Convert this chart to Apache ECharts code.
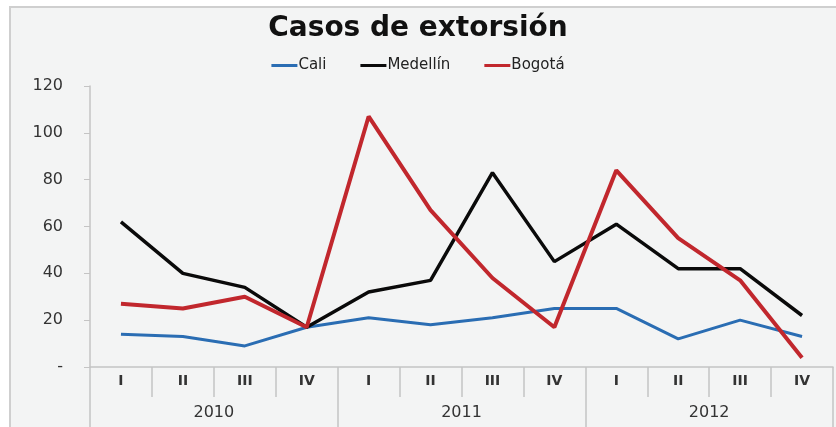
<!DOCTYPE html>
<html>
<head>
<meta charset="utf-8">
<script src="https://cdn.jsdelivr.net/npm/echarts@6/dist/echarts.min.js"></script>
<style>
  html, body { margin: 0; padding: 0; background: #fff; }
  #chart { width: 836px; height: 427px; }
</style>
</head>
<body>
<div id="chart"></div>
<script>
const quarters = ["I", "II", "III", "IV", "I", "II", "III", "IV", "I", "II", "III", "IV"];
const years = ["2010", "2011", "2012"];
const cali = [14, 13, 9, 17, 21, 18, 21, 25, 25, 12, 20, 13];
const medellin = [62, 40, 34, 17, 32, 37, 83, 45, 61, 42, 42, 22];
const bogota = [27, 25, 30, 17, 107, 67, 38, 17, 84, 55, 37, 4];

const font = "'DejaVu Sans', sans-serif";
const gridColor = "#c4c4c4";

let chart = echarts.init(document.getElementById("chart"));
let option = {
  backgroundColor: "#fff",
  animation: false,
  graphic: [
    // panel background, frame only on top and left like the source
    {
      type: "rect",
      shape: { x: 10, y: 7, width: 900, height: 500 },
      style: { fill: "#f3f4f4" },
      z: -10
    },
    {
      type: "polyline",
      shape: { points: [[10, 440], [10, 7], [840, 7]] },
      style: { stroke: "#cfcfcf", lineWidth: 2, fill: null },
      z: -9
    }
  ],
  title: {
    text: "Casos de extorsión",
    left: "center",
    top: 10,
    textStyle: { fontFamily: font, fontSize: 28, fontWeight: "bold", color: "#111" }
  },
  legend: {
    top: 53,
    left: "center",
    itemWidth: 26,
    itemHeight: 3,
    itemGap: 34,
    icon: "rect",
    textStyle: { fontFamily: font, fontSize: 15, color: "#222", padding: [0, 0, 0, -4] },
    data: ["Cali", "Medellín", "Bogotá"]
  },
  grid: { left: 90, right: 3, top: 86, bottom: 60 },
  xAxis: [
    {
      type: "category",
      data: quarters,
      boundaryGap: true,
      axisLine: { show: true, lineStyle: { color: gridColor, width: 1.5 } },
      axisTick: { show: true, interval: 0, length: 30, lineStyle: { color: gridColor, width: 1.5 } },
      axisLabel: { interval: 0, margin: 7, fontFamily: font, fontSize: 14, fontWeight: "bold", color: "#333" }
    },
    {
      type: "category",
      data: years,
      position: "bottom",
      boundaryGap: true,
      axisLine: { show: false },
      axisTick: { show: true, interval: 0, length: 62, lineStyle: { color: gridColor, width: 1.5 } },
      axisLabel: { interval: 0, margin: 38, fontFamily: font, fontSize: 16, color: "#333" }
    }
  ],
  yAxis: {
    type: "value",
    min: 0,
    max: 120,
    interval: 20,
    axisLine: { show: true, lineStyle: { color: gridColor, width: 1.5 } },
    axisTick: { show: true, length: 6, lineStyle: { color: gridColor } },
    splitLine: { show: false },
    axisLabel: {
      margin: 27,
      fontFamily: font,
      fontSize: 16,
      color: "#333",
      formatter: v => (v === 0 ? "-" : String(v))
    }
  },
  series: [
    {
      name: "Cali",
      type: "line",
      data: cali,
      symbol: "none",
      lineStyle: { color: "#2a6db3", width: 3 },
      itemStyle: { color: "#2a6db3" }
    },
    {
      name: "Medellín",
      type: "line",
      data: medellin,
      symbol: "none",
      lineStyle: { color: "#0a0a0a", width: 3.5 },
      itemStyle: { color: "#0a0a0a" }
    },
    {
      name: "Bogotá",
      type: "line",
      data: bogota,
      symbol: "none",
      lineStyle: { color: "#c1272d", width: 4 },
      itemStyle: { color: "#c1272d" }
    }
  ]
};
chart.setOption(option);
</script>
</body>
</html>
